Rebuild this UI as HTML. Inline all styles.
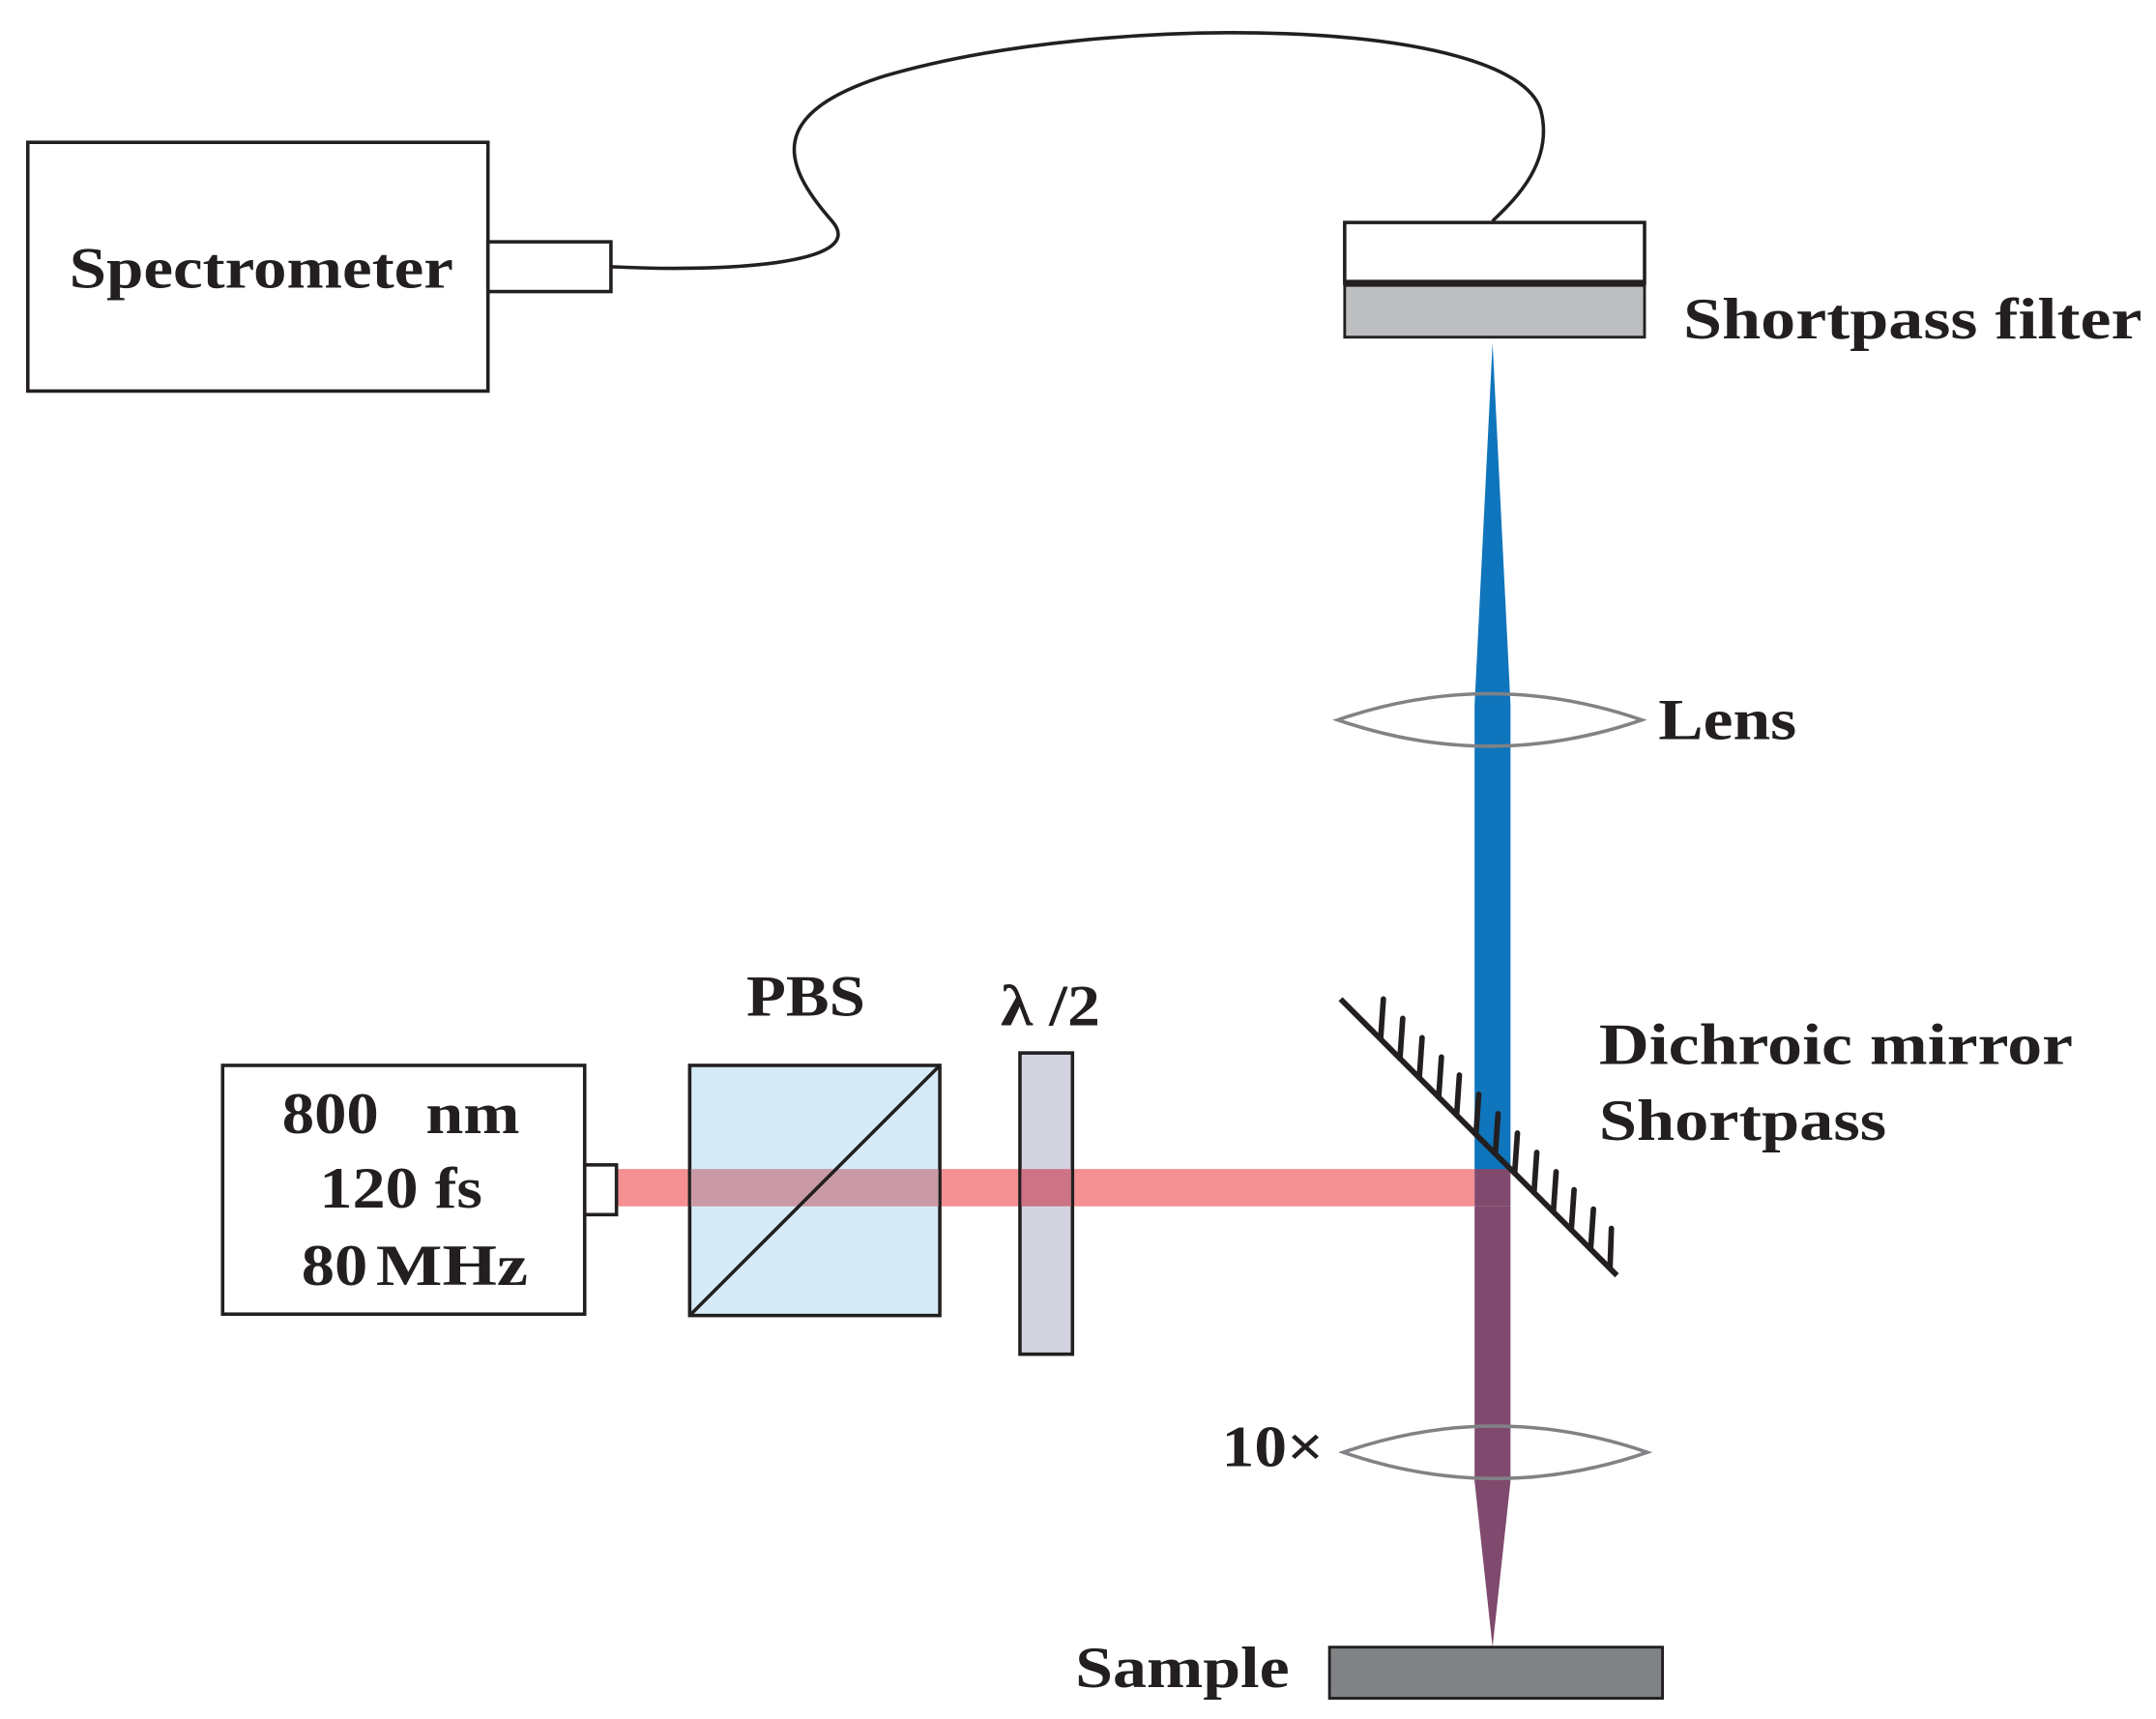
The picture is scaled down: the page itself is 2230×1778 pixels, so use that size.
<!DOCTYPE html>
<html><head><meta charset="utf-8"><style>html,body{margin:0;padding:0;background:#fff}svg{display:block}</style></head>
<body>
<svg width="2230" height="1778" viewBox="0 0 1560 1244" xmlns="http://www.w3.org/2000/svg" font-family="'Liberation Serif', serif" font-weight="bold" fill="#231f20">
<rect width="1560" height="1244" fill="#fff"/>
<!-- Spectrometer -->
<rect x="20" y="103" width="333" height="180" fill="#fff" stroke="#231f20" stroke-width="2.5"/>
<text x="50" y="208" font-size="42" textLength="278" lengthAdjust="spacingAndGlyphs">Spectrometer</text>
<rect x="353" y="175" width="89" height="36" fill="#fff" stroke="#231f20" stroke-width="2.5"/>
<path d="M442,193 C520,197 630,192 602,160 C565,118 555,82 640,55 C800,8 1095,12 1115,80 C1125,120 1092,148 1080,160" fill="none" stroke="#231f20" stroke-width="2.5"/>
<!-- Shortpass filter -->
<rect x="973" y="161" width="217" height="44" fill="#fff" stroke="#231f20" stroke-width="2.5"/>
<rect x="973" y="206" width="217" height="38" fill="#bcbec0" stroke="#231f20" stroke-width="2"/>
<line x1="973" y1="205" x2="1190" y2="205" stroke="#231f20" stroke-width="5"/>
<text x="1218" y="245" font-size="42" textLength="332" lengthAdjust="spacingAndGlyphs">Shortpass filter</text>
<!-- Blue beam -->
<polygon points="1080,248 1093,510 1093,848 1067,848 1067,510" fill="#0f75bc"/>
<!-- Lens -->
<path d="M968,521 Q1078,483 1188,521 Q1078,559 968,521 Z" fill="none" stroke="#808285" stroke-width="2.5"/>
<text x="1200" y="535" font-size="42" textLength="100" lengthAdjust="spacingAndGlyphs">Lens</text>
<!-- Red beam -->
<rect x="445" y="846" width="622" height="27" fill="#f48f92"/>
<rect x="1067" y="846" width="26" height="27" fill="#7f4a6e"/>
<!-- Purple beam -->
<polygon points="1067,873 1093,873 1093,1072 1080,1192 1067,1072" fill="#7f4a6e"/>
<!-- Mirror -->
<line x1="970" y1="723" x2="1170" y2="923" stroke="#231f20" stroke-width="4"/>
<g stroke="#231f20" stroke-width="4" stroke-linecap="round">
<line x1="999" y1="752" x2="1001" y2="723"/>
<line x1="1013" y1="766" x2="1015" y2="737"/>
<line x1="1027" y1="780" x2="1029" y2="751"/>
<line x1="1041" y1="794" x2="1043" y2="765"/>
<line x1="1054" y1="807" x2="1056" y2="778"/>
<line x1="1068" y1="821" x2="1070" y2="792"/>
<line x1="1082" y1="835" x2="1084" y2="806"/>
<line x1="1096" y1="849" x2="1098" y2="820"/>
<line x1="1110" y1="863" x2="1112" y2="834"/>
<line x1="1124" y1="877" x2="1126" y2="848"/>
<line x1="1137" y1="890" x2="1139" y2="861"/>
<line x1="1151" y1="904" x2="1153" y2="875"/>
<line x1="1165" y1="918" x2="1166" y2="889"/>
</g>
<text x="1157" y="770" font-size="42" textLength="343" lengthAdjust="spacingAndGlyphs">Dichroic mirror</text>
<text x="1157" y="825" font-size="42" textLength="208" lengthAdjust="spacingAndGlyphs">Shortpass</text>
<!-- 10x lens -->
<path d="M972,1051 Q1082,1013 1192,1051 Q1082,1089 972,1051 Z" fill="none" stroke="#808285" stroke-width="2.5"/>
<text x="884" y="1061" font-size="42" textLength="74" lengthAdjust="spacingAndGlyphs">10×</text>
<!-- Sample -->
<rect x="962" y="1192" width="241" height="37" fill="#808285" stroke="#231f20" stroke-width="2"/>
<text x="778" y="1221" font-size="42" textLength="155" lengthAdjust="spacingAndGlyphs">Sample</text>
<!-- Laser -->
<rect x="161" y="771" width="262" height="180" fill="#fff" stroke="#231f20" stroke-width="2.5"/>
<rect x="423" y="843" width="23" height="36" fill="#fff" stroke="#231f20" stroke-width="2.5"/>
<text x="204" y="820" font-size="42" textLength="70" lengthAdjust="spacingAndGlyphs">800</text>
<text x="308" y="820" font-size="42" textLength="68" lengthAdjust="spacingAndGlyphs">nm</text>
<text x="231" y="874" font-size="42" textLength="118" lengthAdjust="spacingAndGlyphs">120 fs</text>
<text x="218" y="930" font-size="42" textLength="48" lengthAdjust="spacingAndGlyphs">80</text>
<text x="272" y="930" font-size="42" textLength="110" lengthAdjust="spacingAndGlyphs">MHz</text>
<!-- PBS -->
<rect x="499" y="771" width="181" height="181" fill="#d4ebf7" stroke="#231f20" stroke-width="2.5"/>
<rect x="500" y="846" width="179" height="27" fill="#c99aa5"/>
<line x1="499" y1="952" x2="680" y2="771" stroke="#231f20" stroke-width="2.5"/>
<text x="540" y="735" font-size="42" textLength="86" lengthAdjust="spacingAndGlyphs">PBS</text>
<!-- half-wave -->
<rect x="738" y="762" width="38" height="218" fill="#d3d4e0" stroke="#231f20" stroke-width="2.5"/>
<rect x="739" y="846" width="36" height="27" fill="#cd7386"/>
<text x="724" y="742" font-size="42" textLength="72" lengthAdjust="spacingAndGlyphs">λ /2</text>
</svg>
</body></html>
